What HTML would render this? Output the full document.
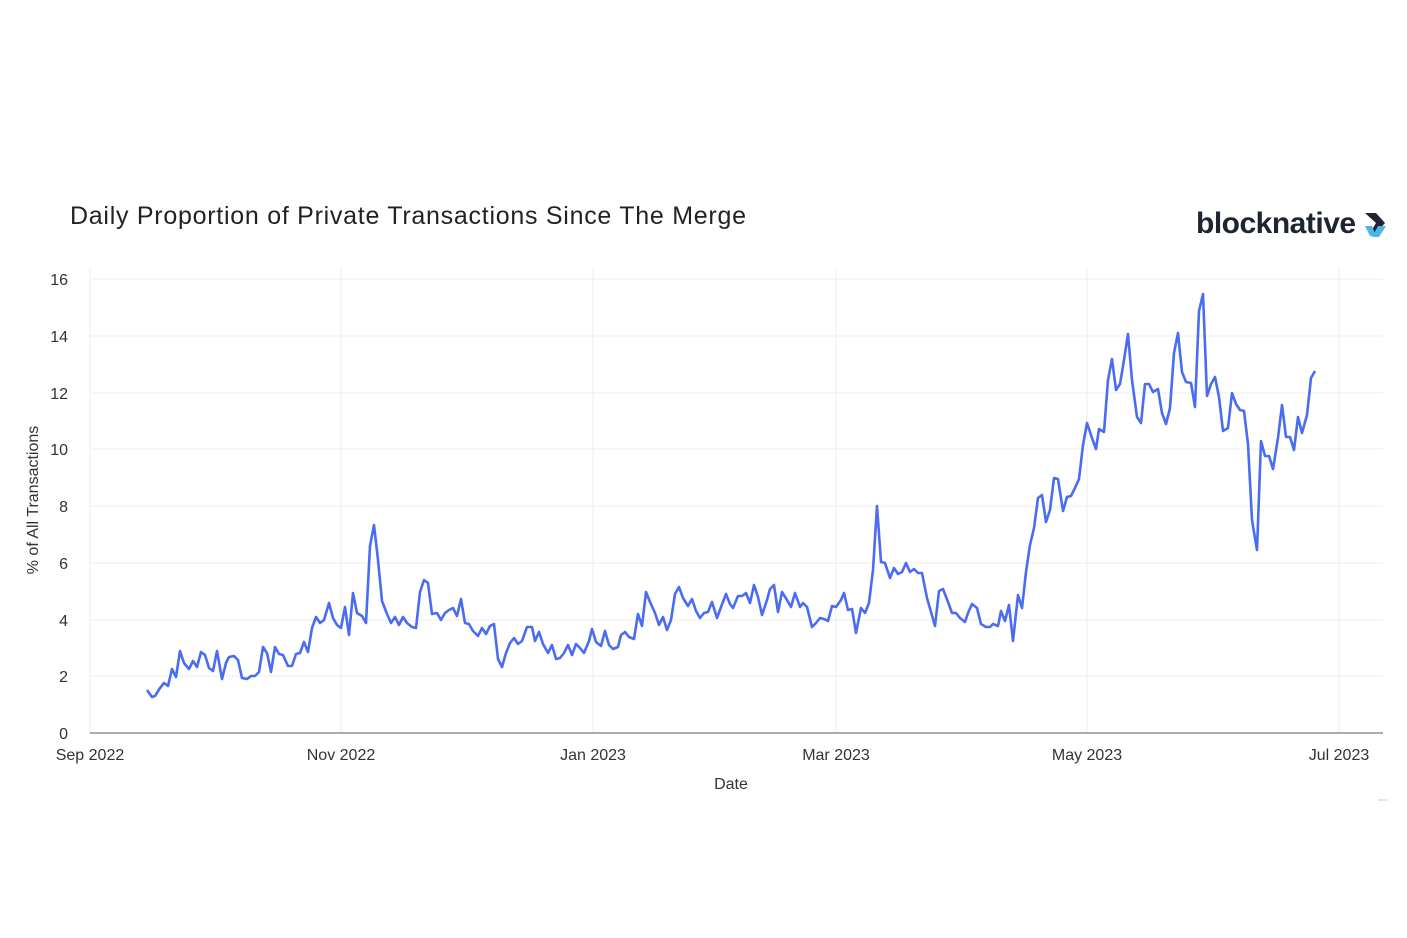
<!DOCTYPE html>
<html><head><meta charset="utf-8"><style>
body{margin:0;background:#fff;}
svg{display:block;font-family:"Liberation Sans",sans-serif;}
</style></head><body>
<svg width="1407" height="938" viewBox="0 0 1407 938">
<rect width="1407" height="938" fill="#fff"/>
<text x="70" y="224" font-size="25" fill="#222" textLength="676" lengthAdjust="spacing">Daily Proportion of Private Transactions Since The Merge</text>
<text x="1196" y="233" font-size="30" font-weight="bold" fill="#1e2430" letter-spacing="-0.5">blocknative</text>
<polygon points="1365,213 1376,213 1385,223 1376,233 1370,233 1376,223" fill="#1e2430"/>
<polygon points="1365,226 1372,226 1376,236 1370,236" fill="#4cb4e8"/>
<polygon points="1378,226 1386,226 1379,237 1372,237" fill="#4cb4e8"/>
<g stroke="#eeeeee" stroke-width="1">
<line x1="90" y1="676" x2="1383" y2="676"/><line x1="90" y1="620" x2="1383" y2="620"/>
<line x1="90" y1="563" x2="1383" y2="563"/><line x1="90" y1="506" x2="1383" y2="506"/>
<line x1="90" y1="449" x2="1383" y2="449"/><line x1="90" y1="393" x2="1383" y2="393"/>
<line x1="90" y1="336" x2="1383" y2="336"/><line x1="90" y1="279" x2="1383" y2="279"/>
<line x1="90" y1="268" x2="90" y2="733"/><line x1="341" y1="268" x2="341" y2="733"/>
<line x1="593" y1="268" x2="593" y2="733"/><line x1="836" y1="268" x2="836" y2="733"/>
<line x1="1087" y1="268" x2="1087" y2="733"/><line x1="1339" y1="268" x2="1339" y2="733"/>
</g>
<line x1="90" y1="733" x2="1383" y2="733" stroke="#555" stroke-width="1"/>
<g font-size="16" fill="#333" text-anchor="end">
<text x="68" y="739">0</text><text x="68" y="682">2</text><text x="68" y="626">4</text>
<text x="68" y="569">6</text><text x="68" y="512">8</text><text x="68" y="455">10</text>
<text x="68" y="399">12</text><text x="68" y="342">14</text><text x="68" y="285">16</text>
</g>
<g font-size="16" fill="#333" text-anchor="middle">
<text x="90" y="760">Sep 2022</text><text x="341" y="760">Nov 2022</text>
<text x="593" y="760">Jan 2023</text><text x="836" y="760">Mar 2023</text>
<text x="1087" y="760">May 2023</text><text x="1339" y="760">Jul 2023</text>
<text x="731" y="789">Date</text>
<text transform="translate(38,500) rotate(-90)">% of All Transactions</text>
</g>
<line x1="1378" y1="800" x2="1388" y2="800" stroke="#ccc"/>
<polyline fill="none" stroke="#4a6cf0" stroke-width="2.6" stroke-linejoin="round" points="147,690 152,697 155,696 160,688 164,683 168,686 172,669 176,677 180,651 184,663 189,669 193,661 197,667 201,652 205,655 209,668 213,671 217,651 222,679 226,663 229,657 234,656 238,660 242,678 247,679 251,676 255,676 259,672 263,647 267,653 271,672 275,647 279,654 283,655 288,666 292,666 296,654 300,653 304,642 308,652 312,628 316,617 320,623 324,620 329,603 333,618 337,625 341,628 345,607 349,635 353,593 357,613 362,616 366,623 370,546 374,525 378,560 382,601 387,614 391,623 395,617 399,625 403,617 407,623 412,627 416,628 420,592 424,580 428,583 432,614 437,613 441,620 445,613 449,610 453,608 457,616 461,599 465,623 469,624 473,631 478,636 482,628 486,634 490,626 494,624 498,659 502,667 506,653 510,643 514,638 518,644 522,641 527,627 532,627 535,641 539,632 543,644 548,653 552,645 556,659 560,658 564,653 568,645 572,655 576,644 580,648 584,653 589,641 592,629 596,642 601,646 605,631 609,645 613,649 618,647 621,635 625,632 629,637 634,639 638,614 642,626 646,592 650,602 655,613 659,625 663,617 667,630 671,620 675,594 679,587 683,598 688,606 692,599 696,611 700,618 704,613 708,612 712,602 717,618 721,607 726,594 730,604 733,608 738,596 742,596 746,593 750,603 754,585 758,597 762,615 767,600 770,589 774,585 778,612 782,592 787,600 791,607 795,593 800,607 803,603 807,607 812,627 816,623 820,618 824,619 828,621 832,606 836,607 841,600 844,593 848,610 852,609 856,633 861,608 865,613 869,603 873,570 877,506 881,562 885,563 890,578 894,568 898,574 902,572 906,563 910,572 914,569 918,573 922,573 927,598 931,612 935,626 939,591 943,589 948,602 952,613 956,613 960,618 965,622 968,613 972,604 977,608 981,624 986,627 990,627 993,624 998,626 1001,611 1005,621 1009,605 1013,641 1018,595 1022,608 1026,572 1030,545 1034,528 1038,498 1042,495 1046,522 1050,510 1054,478 1058,479 1063,511 1067,497 1071,496 1075,488 1079,479 1083,445 1087,423 1092,438 1096,449 1099,429 1104,432 1108,380 1112,359 1116,390 1120,384 1124,360 1128,334 1132,380 1137,417 1141,423 1145,384 1149,384 1153,392 1158,389 1162,413 1166,424 1170,408 1174,353 1178,333 1182,372 1186,382 1191,383 1195,407 1199,311 1203,294 1207,396 1211,384 1215,377 1219,397 1223,431 1228,428 1232,393 1236,404 1240,410 1244,411 1248,444 1252,520 1257,550 1261,441 1265,456 1269,456 1273,469 1278,438 1282,405 1286,437 1290,437 1294,450 1298,417 1302,433 1307,415 1311,378 1315,371"/>
</svg>
</body></html>
